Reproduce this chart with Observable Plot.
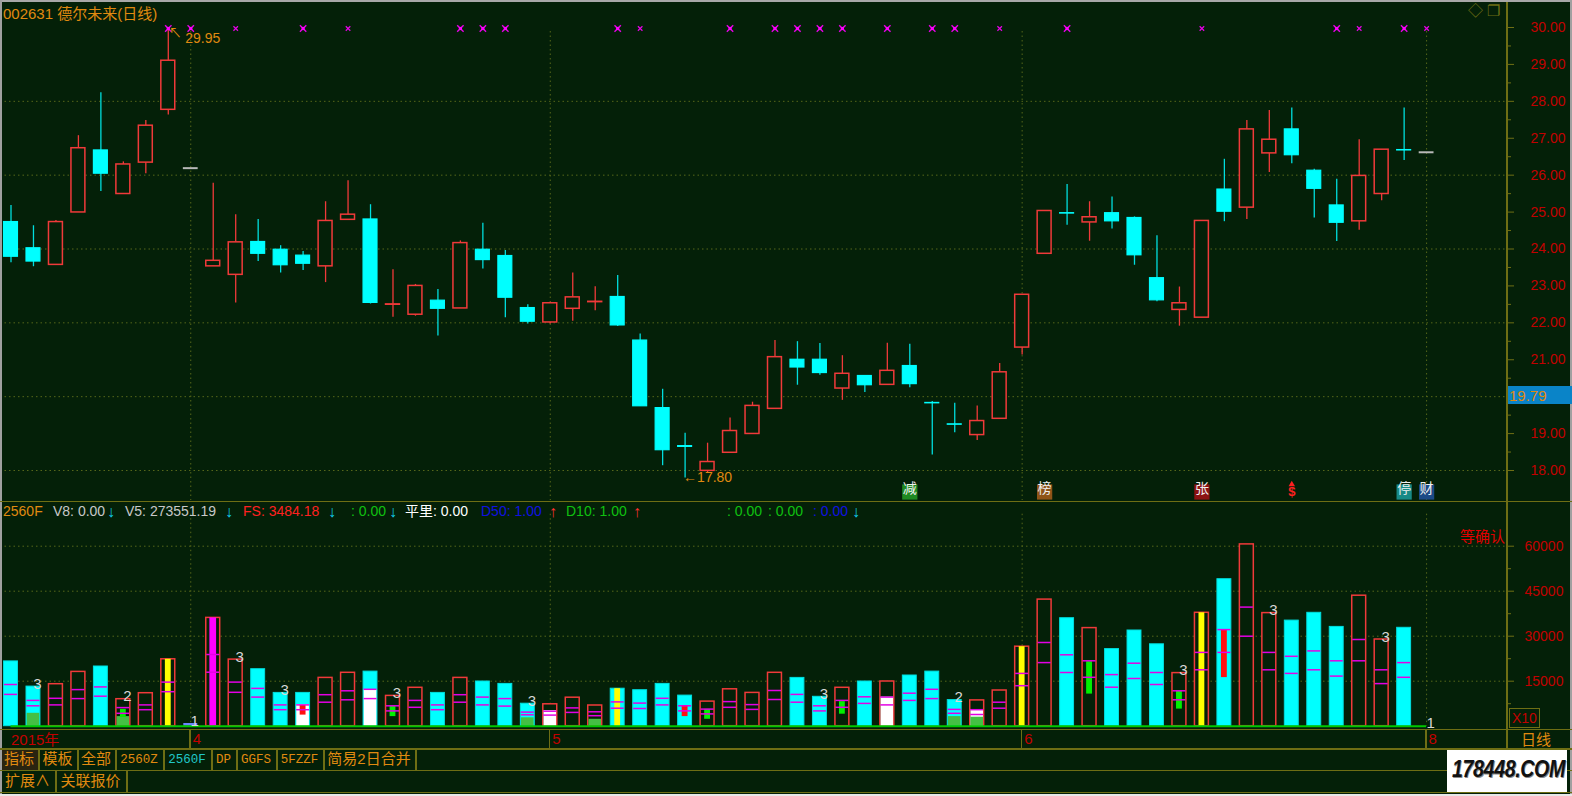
<!DOCTYPE html>
<html><head><meta charset="utf-8">
<script src="https://cdn.jsdelivr.net/npm/d3@7"></script>
<script src="https://cdn.jsdelivr.net/npm/@observablehq/plot@0.6"></script>
<style>
html,body{margin:0;padding:0;background:#042008;}
#root{position:relative;width:1572px;height:796px;background:#042008;overflow:hidden;font-family:"Liberation Sans","Noto Sans CJK SC",sans-serif;}
.a{position:absolute;white-space:nowrap;line-height:1;}
#root svg{position:absolute;left:0;}
</style></head><body><div id="root"></div>
<script>
// ---------- data ----------
const open  = [24.73,24.02,23.57,24.99,26.67,25.49,26.34,27.77,null,23.53, 23.30,24.19,23.98,23.82,23.53,24.79,24.80,22.49,22.22,22.60, 22.39,23.98,23.81,22.40,22.01,22.38,22.56,22.70,21.52,19.69, 18.66,17.99,18.48,18.99,19.67,21.00,21.00,20.22,20.56,20.32, 20.83,19.83,19.25,18.96,19.40,21.33,23.87,24.97,24.72,24.97, 24.84,23.21,22.35,22.14,25.61,25.12,26.59,27.24,26.12,25.18, 24.75,25.49,26.68,null];
const high  = [25.18,24.63,24.77,27.07,28.23,26.36,27.48,29.95,null,25.78, 24.93,24.80,24.09,23.93,25.28,25.85,25.20,23.44,23.04,22.90, 24.22,24.70,23.96,22.49,22.56,23.35,22.98,23.28,21.70,20.20, 19.01,18.74,19.42,19.85,21.52,21.49,21.44,21.11,20.56,21.45, 21.42,19.87,19.82,19.75,20.90,22.76,25.03,25.75,25.28,25.41, 24.87,24.36,22.97,24.76,26.43,27.48,27.75,27.82,26.16,25.89, 26.96,26.69,27.82,null];
const low   = [23.63,23.52,23.57,24.99,25.56,25.49,26.04,27.63,null,23.53, 22.54,23.66,23.35,23.42,23.09,24.79,22.51,22.15,22.18,21.64, 22.39,23.46,22.14,21.97,21.97,22.04,22.33,21.90,19.74,18.13, 17.80,17.92,18.48,18.99,19.67,20.31,20.58,19.90,20.11,20.32, 20.24,18.42,19.02,18.81,19.40,21.13,23.87,24.64,24.21,24.54, 23.56,22.57,21.91,22.14,24.74,24.80,26.07,26.31,24.84,24.20, 24.51,25.31,26.40,null];
const close = [23.79,23.66,24.73,26.73,26.04,26.29,27.34,29.10,null,23.68, 24.18,23.87,23.56,23.60,24.76,24.93,22.54,22.50,23.00,22.38, 24.16,23.70,22.68,22.03,22.53,22.69,22.57,21.93,19.74,18.55, 18.64,18.23,19.07,19.75,21.07,20.79,20.64,20.62,20.31,20.70, 20.34,19.82,19.24,19.34,20.66,22.76,25.03,24.96,24.86,24.75, 23.83,22.61,22.53,24.76,25.01,27.24,26.96,26.54,25.63,24.71, 25.98,26.69,26.67,null];
const haltIdx = [8, 63];
const haltPrice = [26.19, 26.62];
const priceTicks = [18,19,21,22,23,24,25,26,27,28,29,30];
const priceMinor = [18.5,19.5,20.5,21.5,22.5,23.5,24.5,25.5,26.5,27.5,28.5,29.5];
const priceGrid = [18,20,22,24,26,28];
const lastPrice = "19.79";
const lastPriceLevel = 20;
const monthIdx = [8,24,45,63];
const monthLabel = ["4","5","6","8"];
const markBig = [7,8,13,20,21,22,27,32,34,35,36,37,39,41,42,47,59,62];
const markSmall = [10,15,28,44,53,60,63];
const sigIdx = [40,46,53,62,63];
const sigText = ["减","榜","张","停","财"];
const sigBg = ["#1f8a22","#8e5418","#8c1212","#178a86","#1c4a86"];
const dollarIdx = [57];

const vol = [21600,13200,14000,18100,19900,9000,11000,22300,900,36100, 22200,19000,11100,11100,16100,17800,18200,10100,12800,11100, 16100,14900,14100,7500,7300,9500,6900,12500,12000,14100, 10200,8200,12300,11100,17800,16100,9800,12800,14900,14900, 16900,18200,8700,8600,11900,26500,42200,36000,32700,25700, 31900,27300,17700,37800,49000,60600,37700,35200,37800,33100, 43500,28900,32800,0];
const ma1 = [13900,8600,9300,12200,13100,6200,7100,14700,null,23900, 14700,12600,7100,7100,10500,11800,12300,6800,8600,7100, 10500,9700,9200,4700,5000,6100,4800,8100,7700,9300, 6800,5700,8200,7200,11900,10600,6800,8600,9800,9700, 11000,12300,5600,5500,8000,17600,27900,23800,21800,17200, 21000,17900,11800,24600,32200,39700,24600,23300,25100,21800, 28900,18800,21200,null];
const ma2 = [10600,6800,7100,9200,10000,4300,5500,11500,null,18000, 11300,9700,5500,5500,8000,8800,9200,5100,6300,5500, 8000,7100,6700,3800,3700,4600,3500,6000,5900,7100, 5100,4100,6300,5600,8900,8000,5100,6300,7600,7100, 8600,9200,4300,3900,6000,13500,21200,17900,16300,13000, 15900,13900,8800,18800,24600,30000,18800,17600,18800,16700, 21800,14200,16300,null];
const whiteIdx = [13,16,24,39,43];
const whiteTop = [7200,12100,5200,9700,5500];
const lgIdx = [1,5,23,26,42,43];
const lgTop = [4300,3200,2800,2300,3200,3000];
const yellowIdx = [7,27,45,53];
const magentaIdx = [9];
const greenIdx = [5,17,31,37,48,52];
const greenLo = [2900,3200,2300,4000,10700,5700];
const greenHi = [5600,6600,5600,8200,21500,11600];
const redIdx = [13,30,54];
const redLo = [3700,3200,16200];
const redHi = [6900,6900,32100];
const vLabelIdx = [1,5,8,10,12,17,23,36,42,52,56,61,63];
const vLabelText = ["3","2","1","3","3","3","3","3","2","3","3","3","1"];
const volTicks = [15000,30000,45000,60000];
const volMinor = [7500,22500,37500,52500];

// ---------- style ----------
const BG="#042008", OL="#6e6e14", GRID="#56661a", RED="#f03a3a", CY="#00ffff", CYD="#00dede", MAG="#e400e4";
const AXR="#c20000", ORG="#e08a10";
const FONT = "Liberation Sans, Noto Sans CJK SC, sans-serif";
const root = document.getElementById("root");
const n = open.length;
const all = d3.range(n);
const live = all.filter(i => open[i] != null);
const upI = live.filter(i => close[i] >= open[i]);
const dnI = live.filter(i => close[i] < open[i]);
const xDomain = [-0.4673, 66.6];
const HW = 0.31;

function put(text, x, y, css){ const d=document.createElement("div"); d.className="a"; d.textContent=text; d.style.left=x+"px"; d.style.top=y+"px"; Object.assign(d.style, css||{}); root.appendChild(d); return d; }
function box(x,y,w,h,bg){ const d=document.createElement("div"); d.className="a"; Object.assign(d.style,{left:x+"px",top:y+"px",width:w+"px",height:h+"px",background:bg}); root.appendChild(d); return d; }

// ---------- price panel ----------
const minI = live.reduce((a,i)=> low[i]<low[a]?i:a, live[0]);
const maxI = live.reduce((a,i)=> high[i]>high[a]?i:a, live[0]);
const sigMarks = sigIdx.map((s,k)=>[
  Plot.dot([s], {x:d=>d, frameAnchor:"bottom", dy:21.5, symbol:"square", r:8.6, fill:sigBg[k]}),
  Plot.text([s], {x:d=>d, frameAnchor:"bottom", dy:22, text:()=>sigText[k], fill:"#f0f0f0", fontSize:14, fontFamily:"Noto Sans CJK SC"})
]).flat();
const price = Plot.plot({
  width:1572, height:500, marginTop:27, marginBottom:30, marginLeft:0, marginRight:65,
  x:{type:"linear", domain:xDomain, axis:null},
  y:{domain:[18,30], axis:null},
  style:{background:"transparent", fontFamily:FONT, overflow:"visible"},
  marks:[
    Plot.gridY(priceGrid, {stroke:GRID, strokeOpacity:1, strokeDasharray:"1.5,3"}),
    Plot.ruleX(monthIdx, {x:d=>d, stroke:GRID, strokeDasharray:"1.5,3", insetTop:4, insetBottom:-30}),
    Plot.ruleX(upI, {x:i=>i, y1:i=>low[i], y2:i=>high[i], stroke:RED, strokeWidth:1.3}),
    Plot.ruleX(dnI, {x:i=>i, y1:i=>low[i], y2:i=>high[i], stroke:CYD, strokeWidth:1.3}),
    Plot.rect(upI, {x1:i=>i-HW, x2:i=>i+HW, y1:i=>open[i], y2:i=>close[i], fill:BG, stroke:RED, strokeWidth:1.5}),
    Plot.rect(dnI, {x1:i=>i-HW, x2:i=>i+HW, y1:i=>open[i], y2:i=>close[i], fill:CY, stroke:CY, strokeWidth:1.2}),
    Plot.ruleY(haltIdx, {y:(d,k)=>haltPrice[k], x1:d=>d-0.33, x2:d=>d+0.33, stroke:"#b8b8b8", strokeWidth:2}),
    Plot.dot(markBig, {x:d=>d, frameAnchor:"top", dy:1, symbol:"times", r:3, stroke:"#e800e8", strokeWidth:1.4}),
    Plot.dot(markBig, {x:d=>d, frameAnchor:"top", dy:1, symbol:"square", r:1.8, fill:"#ff00ff"}),
    Plot.dot(markSmall, {x:d=>d, frameAnchor:"top", dy:1, symbol:"times", r:2.2, stroke:"#e800e8", strokeWidth:1.2}),
    Plot.text([maxI], {x:d=>d, y:d=>high[d], text:()=>"↖", fill:ORG, fontSize:13, dx:7, dy:3}),
    Plot.text([maxI], {x:d=>d, y:d=>high[d], text:d=>high[d].toFixed(2), fill:ORG, fontSize:14, textAnchor:"start", dx:17, dy:9}),
    Plot.text([minI], {x:d=>d, y:d=>low[d], text:d=>"←"+low[d].toFixed(2), fill:ORG, fontSize:14, textAnchor:"start", dx:-2, dy:0}),
    ...sigMarks,
    Plot.text(dollarIdx, {x:d=>d, frameAnchor:"bottom", dy:25, text:()=>"$", fill:"#ff2020", fontSize:13, fontWeight:"bold"}),
    Plot.dot(dollarIdx, {x:d=>d, frameAnchor:"bottom", dy:14, symbol:"triangle", r:2.4, fill:"#ff2020"}),
    Plot.axisY({anchor:"right", ticks:priceTicks, tickFormat:d=>d.toFixed(2), tickSize:6, tickPadding:17, stroke:OL, fill:AXR, fontSize:14, label:null}),
    Plot.axisY({anchor:"right", ticks:priceMinor, tickFormat:()=>"", tickSize:3, stroke:OL, label:null})
  ]
});
price.style.top="0px";
root.appendChild(price);

// ---------- volume panel ----------
const vUp = all.filter(i => open[i]!=null && close[i]>=open[i]);
const vDn = all.filter(i => open[i]!=null && close[i]<open[i]);
const vHalt = all.filter(i => open[i]==null);
const maI = all.filter(i => ma1[i]!=null);
const vp = Plot.plot({
  width:1572, height:247, marginTop:44.7, marginBottom:22.3, marginLeft:0, marginRight:65,
  x:{type:"linear", domain:xDomain, axis:null},
  y:{domain:[0,60000], axis:null},
  style:{background:"transparent", fontFamily:FONT, overflow:"visible"},
  marks:[
    Plot.gridY(volTicks, {stroke:GRID, strokeOpacity:1, strokeDasharray:"1.5,3"}),
    Plot.ruleX(monthIdx, {x:d=>d, stroke:GRID, strokeDasharray:"1.5,3", insetTop:-32}),
    Plot.rect(vDn, {x1:i=>i-HW, x2:i=>i+HW, y1:()=>0, y2:i=>vol[i], fill:CY, stroke:CYD, strokeWidth:1}),
    Plot.rect(vUp, {x1:i=>i-HW, x2:i=>i+HW, y1:()=>0, y2:i=>vol[i], fill:BG, stroke:RED, strokeWidth:1.5}),
    Plot.rect(vHalt, {x1:i=>i-HW, x2:i=>i+HW, y1:()=>0, y2:i=>vol[i], fill:"#6a84ff"}),
    Plot.rect(whiteIdx, {x1:d=>d-0.28, x2:d=>d+0.28, y1:()=>0, y2:(d,k)=>whiteTop[k], fill:"#ffffff"}),
    Plot.rect(lgIdx, {x1:d=>d-0.28, x2:d=>d+0.28, y1:()=>0, y2:(d,k)=>lgTop[k], fill:"#44c044"}),
    Plot.rect(yellowIdx, {x1:d=>d-0.13, x2:d=>d+0.13, y1:()=>0, y2:d=>vol[d], fill:"#ffff00"}),
    Plot.rect(magentaIdx, {x1:d=>d-0.15, x2:d=>d+0.15, y1:()=>0, y2:d=>vol[d], fill:"#ff00ff"}),
    Plot.rect(greenIdx, {x1:d=>d-0.13, x2:d=>d+0.13, y1:(d,k)=>greenLo[k], y2:(d,k)=>greenHi[k], fill:"#00f000"}),
    Plot.rect(redIdx, {x1:d=>d-0.13, x2:d=>d+0.13, y1:(d,k)=>redLo[k], y2:(d,k)=>redHi[k], fill:"#ff1010"}),
    Plot.ruleY(maI, {y:i=>ma1[i], x1:i=>i-0.29, x2:i=>i+0.29, stroke:MAG, strokeWidth:1.5}),
    Plot.ruleY(maI, {y:i=>ma2[i], x1:i=>i-0.29, x2:i=>i+0.29, stroke:MAG, strokeWidth:1.5}),
    Plot.ruleY([0], {x1:()=>0, x2:()=>n-1, stroke:"#00c800", strokeWidth:2}),
    Plot.text(vLabelIdx, {x:d=>d, y:d=>vol[d], text:(d,k)=>vLabelText[k], lineAnchor:"bottom", dx:4, dy:2, fill:"#d8d8d8", fontSize:15}),
    Plot.text(monthIdx, {x:d=>d, y:()=>0, text:(d,k)=>monthLabel[k], textAnchor:"start", dx:2, dy:13, fill:AXR, fontSize:15}),
    Plot.axisY({anchor:"right", ticks:volTicks, tickFormat:d=>String(d), tickSize:6, tickPadding:11, stroke:OL, fill:AXR, fontSize:14, label:null}),
    Plot.axisY({anchor:"right", ticks:volMinor, tickFormat:()=>"", tickSize:3, stroke:OL, label:null})
  ]
});
vp.style.top="501px";
root.appendChild(vp);

// ---------- frame lines ----------
box(0,0,1572,2,"#a8a8a8");
box(0,0,2,796,"#a0a0a0");
box(1570,0,2,796,"#a0a0a0");
box(0,794,1572,2,"#e8e8e8");
box(1506,2,1.5,747,OL);
box(0,500.5,1572,1.5,OL);
box(0,728.5,1572,1.5,OL);
box(0,748,1572,1.5,OL);
box(0,769.5,1572,1.5,OL);
box(0,791.5,1572,1.5,OL);
const xs = vp.scale("x");
monthIdx.forEach(m => box(xs.apply(m)-1, 729, 1.5, 19, OL));

// ---------- texts ----------
put("002631 德尔未来(日线)", 3, 6, {color:ORG, fontSize:"15px"});
put("◇", 1468, 3, {color:OL, fontSize:"15px"});
put("❐", 1487, 3, {color:OL, fontSize:"15px"});
const ys = price.scale("y");
const ly = ys.apply(lastPriceLevel);
box(1507.5, ly-10, 64, 18, "#0a84c8");
put(lastPrice, 1509, ly-8, {color:ORG, fontSize:"15px"});

// volume header
const hy = 504;
const hdr = [
  ["2560F",3,ORG],["V8: 0.00",53,"#c8c8c8"],["↓",107,"#10c8e8"],["V5: 273551.19",125,"#c8c8c8"],["↓",225,"#10c8e8"],
  ["FS: 3484.18",243,"#ff2020"],["↓",328,"#10c8e8"],[": 0.00",351,"#10c010"],["↓",389,"#10c8e8"],
  ["平里: 0.00",405,"#ffffff"],["D50: 1.00",481,"#1010e0"],["↑",549,"#ff3030"],["D10: 1.00",566,"#10c010"],["↑",633,"#ff3030"],
  [": 0.00",727,"#10c010"],[": 0.00",768,"#10c010"],[": 0.00",813,"#1010e0"],["↓",852,"#10c8e8"]
];
hdr.forEach(([t,x,c]) => put(t, x, hy, {color:c, fontSize: (t==="↓"||t==="↑") ? "16px" : "14px"}));
put("等确认", 1460, 528, {color:"#e00000", fontSize:"15px", fontFamily:"Noto Sans CJK SC"});
put("X10", 1509, 708, {color:AXR, fontSize:"14px", border:"1px solid "+OL, padding:"2px 2px", height:"14px"});

// x-axis row
put("2015年", 11, 732, {color:AXR, fontSize:"15px"});
put("日线", 1521, 732, {color:ORG, fontSize:"15px"});

// tabs
const tabs1 = [["指标",0,38,ORG],["模板",38,77,ORG],["全部",77,115,ORG],["2560Z",115,163,ORG],["2560F",163,211,"#20c8c8"],["DP",211,236,ORG],["GGFS",236,276,ORG],["5FZZF",276,323,ORG],["简易2日合并",323,415,ORG]];
box(2,749.5,36,20,"#2a2410");
tabs1.forEach(([t,a,b,c])=>{
  box(b,749,1.5,21,OL);
  const mono = /^[0-9A-Z]+$/.test(t);
  put(t, a, mono?754:751, {color:c, fontSize: mono?"12.5px":"15px", width:(b-a)+"px", textAlign:"center", fontFamily: mono?"Liberation Mono, monospace":FONT});
});
const tabs2 = [["扩展∧",0,55],["关联报价",55,126]];
tabs2.forEach(([t,a,b])=>{
  box(b,770,1.5,22,OL);
  put(t, a, 773, {color:ORG, fontSize:"15px", width:(b-a)+"px", textAlign:"center"});
});
// watermark
box(1447,750,120,42,"#ffffff");
put("178448.COM", 1452, 757, {color:"#111", fontSize:"24px", fontWeight:"bold", fontStyle:"italic", transform:"scaleX(0.82)", transformOrigin:"left top", textShadow:"1px 1px 0 #888", letterSpacing:"-0.5px"});
</script>
</body></html>
